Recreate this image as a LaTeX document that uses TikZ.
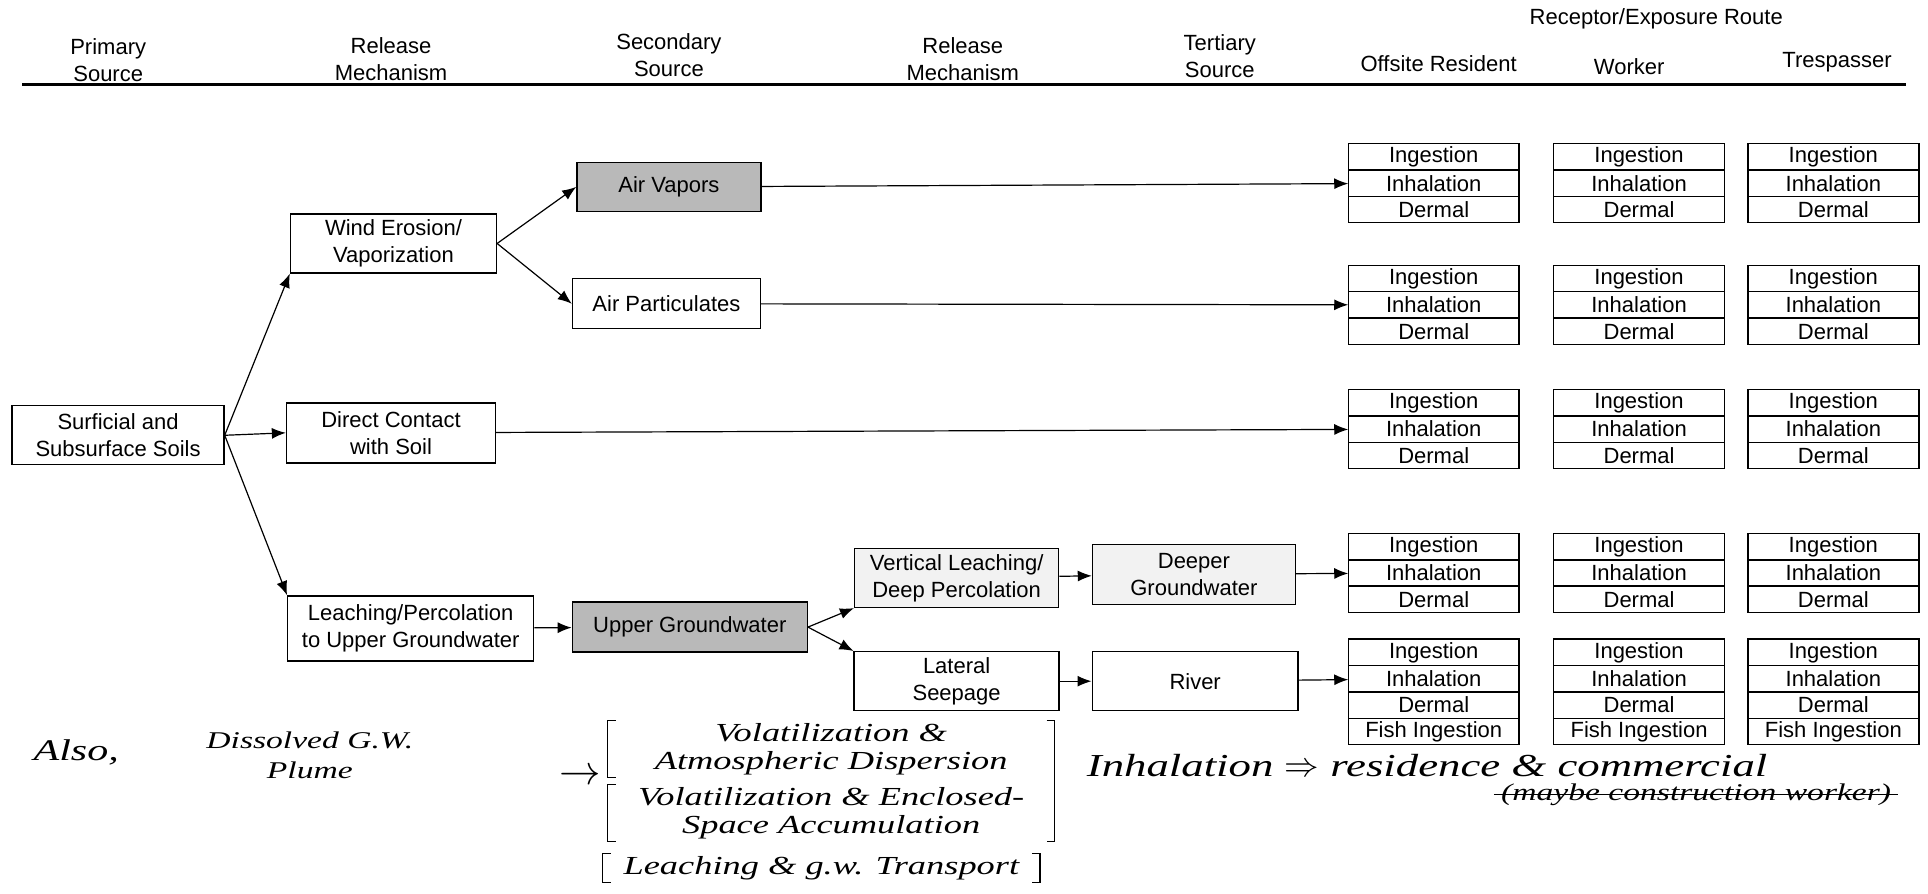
\documentclass[tikz,border=0pt]{standalone}
\usepackage{fontspec}
\setmainfont{Liberation Sans}
\newfontfamily\handfont[FakeStretch=1.4]{Liberation Serif}
\usepackage{tikz}
\usetikzlibrary{positioning, arrows.meta}

\begin{document}
\begin{tikzpicture}[auto, x=0.615pt, y=-0.615pt, line width=0.6pt,
    >={Latex[length=7pt, width=5.5pt]},
    font=\fontsize{11}{13.5}\selectfont,
    box/.style={draw, line width=0.7pt, align=center, inner sep=2pt},
    dark/.style={box, fill=gray!55},
    light/.style={box, fill=gray!10},
    cell/.style={draw, line width=0.7pt, minimum width=85.5pt, minimum height=13.2pt, inner sep=0pt, outer sep=0pt},
    head/.style={align=center},
    hand/.style={font=\handfont\itshape\fontsize{13}{14}\selectfont, align=center},
    grp/.style={hand, minimum width=223pt, inner sep=1pt}]
    \useasboundingbox (0,0) rectangle (1568,727);

    \node[head] (hprim) at (88,49) {Primary\\Source};
    \node[head] (hrel1) at (318,48) {Release\\Mechanism};
    \node[head] (hsec) at (544,45) {Secondary\\Source};
    \node[head] (hrel2) at (783,48) {Release\\Mechanism};
    \node[head] (hter) at (992,46) {Tertiary\\Source};
    \node[head] (hrec) at (1347,15) {Receptor/Exposure Route};
    \node[head] (hoff) at (1170,52) {Offsite Resident};
    \node[head] (hwrk) at (1325,54) {Worker};
    \node[head] (htre) at (1494,51) {Trespasser};
    \draw[line width=1.4pt] (18,69) -- (1550,69);

    \node[box, minimum width=106pt, minimum height=29.5pt] (soils) at (96,354)
        {Surficial and\\Subsurface Soils};
    \node[box, minimum width=103pt, minimum height=29.5pt] (wind) at (320,198)
        {Wind Erosion/\\Vaporization};
    \node[box, minimum width=104.5pt, minimum height=30pt] (direct) at (318,352)
        {Direct Contact\\with Soil};
    \node[box, minimum width=123pt, minimum height=32.5pt] (leach) at (334,511)
        {Leaching/Percolation\\to Upper Groundwater};

    \node[dark, minimum width=92pt, minimum height=24.5pt] (airvap) at (544,152)
        {Air Vapors};
    \node[box, minimum width=94pt, minimum height=25pt] (airpart) at (542,247)
        {Air Particulates};
    \node[dark, minimum width=117.5pt, minimum height=25pt] (uppergw) at (561,510)
        {Upper Groundwater};

    \node[light, minimum width=102pt, minimum height=29.5pt] (vert) at (778,470)
        {Vertical Leaching/\\Deep Percolation};
    \node[box, minimum width=102.5pt, minimum height=29.5pt] (lateral) at (778,554)
        {Lateral\\Seepage};
    \node[light, minimum width=101.5pt, minimum height=30pt] (deeper) at (971,467)
        {Deeper\\Groundwater};
    \node[box, minimum width=103pt, minimum height=29.5pt] (river) at (972,554)
        {River};

    \foreach \grp/\yy in {vap/149, part/248, soil/349, deep/466, riv/552}
      \foreach \who/\xx in {off/1166, wrk/1333, tre/1491} {
        \node[cell] (\who\grp inh) at (\xx,\yy) {Inhalation};
        \node[cell, above=0pt of \who\grp inh] (\who\grp ing) {Ingestion};
        \node[cell, below=0pt of \who\grp inh] (\who\grp der) {Dermal};
      }
    \foreach \who in {off, wrk, tre}
        \node[cell, below=0pt of \who rivder] (\who rivfish) {Fish Ingestion};

    \draw[->] (soils.east) -- (wind.south west);
    \draw[->] (soils.east) -- (direct.west);
    \draw[->] (soils.east) -- (leach.north west);
    \draw[->] (wind.east) -- (airvap.west);
    \draw[->] (wind.east) -- (airpart.west);
    \draw[->] (leach) -- (uppergw);
    \draw[->] (uppergw.east) -- (vert.south west);
    \draw[->] (uppergw.east) -- (lateral.north west);
    \draw[->] (vert) -- (deeper);
    \draw[->] (lateral) -- (river);

    \draw[->] (airvap) -- (offvapinh);
    \draw[->] (airpart) -- (offpartinh);
    \draw[->] (direct) -- (offsoilinh);
    \draw[->] (deeper) -- (offdeepinh);
    \draw[->] (river) -- (offrivinh);

    \node[hand, font=\handfont\itshape\fontsize{15}{16}\selectfont] (also) at (62,612) {Also,};
    \node[hand, font=\handfont\itshape\fontsize{12}{15}\selectfont] (plume) at (252,614)
        {Dissolved G.W.\\Plume};
    \node[hand, font=\fontsize{20}{20}\selectfont] (harrow) at (472,632) {$\rightarrow$};
    \node[grp] (volat) at (676,609) {Volatilization \&\\Atmospheric Dispersion};
    \node[grp] (encl) at (676,661) {Volatilization \& Enclosed-\\Space Accumulation};
    \node[grp, minimum width=218pt] (gwt) at (668,706) {Leaching \& g.w. Transport};
    \draw ([xshift=4pt]volat.north west) -| (volat.south west) -- ++(4pt,0);
    \draw ([xshift=4pt]encl.north west) -| (encl.south west) -- ++(4pt,0);
    \draw ([xshift=-4pt]volat.north east) -| (encl.south east) -- ++(-4pt,0);
    \draw ([xshift=4pt]gwt.north west) -| (gwt.south west) -- ++(4pt,0);
    \draw ([xshift=-4pt]gwt.north east) -| (gwt.south east) -- ++(-4pt,0);
    \node[hand, anchor=west, font=\handfont\itshape\fontsize{16}{17}\selectfont] (inhal) at (878,623)
        {Inhalation $\Rightarrow$ residence \& commercial};
    \node[hand, anchor=west, font=\handfont\itshape\fontsize{12}{14}\selectfont] (maybe) at (1215,646)
        {(maybe construction worker)};
    \draw (maybe.west) -- (maybe.east);
\end{tikzpicture}
\end{document}
